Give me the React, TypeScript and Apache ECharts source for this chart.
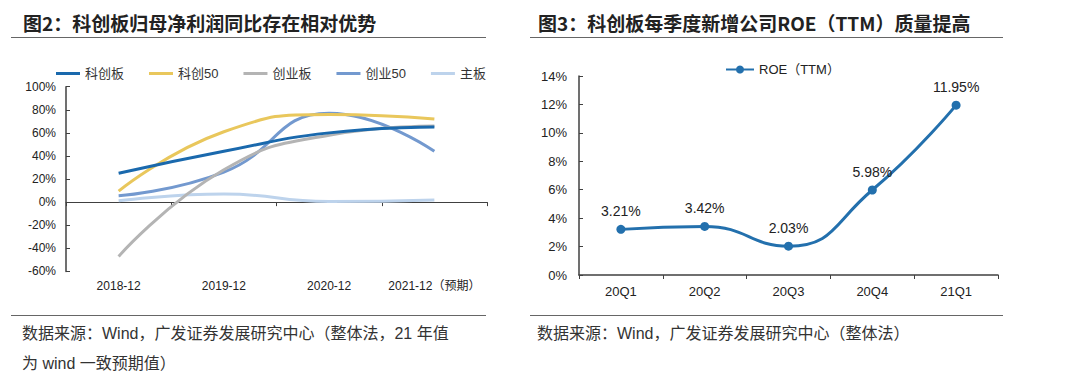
import React, { useEffect, useRef } from "react";
import * as echarts from "echarts";

// ---------- Data ----------
const leftCategories = ["2018-12", "2019-12", "2020-12", "2021-12（预期）"];
const leftNames = ["科创板", "科创50", "创业板", "创业50", "主板"];
const kcbValues = [25, 44, 60, 65];
const kc50Values = [9.5, 61, 76, 72];
const cybValues = [-47, 28, 58, 66];
const cy50Values = [5.5, 26, 77, 44];
const zbValues = [1.2, 7, 0.5, 1.8];
const leftYMin = -60;
const leftYMax = 100;
const leftYStep = 20;

const rightCategories = ["20Q1", "20Q2", "20Q3", "20Q4", "21Q1"];
const roeName = "ROE（TTM）";
const roeValues = [3.21, 3.42, 2.03, 5.98, 11.95];
const rightYMin = 0;
const rightYMax = 14;
const rightYStep = 2;

const titleLeft = "图2：科创板归母净利润同比存在相对优势";
const titleRight = "图3：科创板每季度新增公司ROE（TTM）质量提高";
const footLeft1 = "数据来源：Wind，广发证券发展研究中心（整体法，21 年值";
const footLeft2 = "为 wind 一致预期值）";
const footRight = "数据来源：Wind，广发证券发展研究中心（整体法）";

const leftColors = ["#1A69AD", "#E9C75C", "#B4B4B4", "#7399CF", "#BDD3EC"];
const leftData = [kcbValues, kc50Values, cybValues, cy50Values, zbValues];

const LATIN = "'Liberation Sans', Arial, 'Noto Sans CJK SC', sans-serif";
const CJK = "'Noto Sans CJK SC', 'Liberation Sans', sans-serif";

export default function App() {
  const ref = useRef<HTMLDivElement>(null);

  useEffect(() => {
    document.body.style.margin = "0";
    if (!ref.current) return;
    const chart = echarts.init(ref.current, undefined, { renderer: "svg" });

    const axisLineColor = "#404040";
    const labelColor = "#222";

    const option: any = {
      animation: false,
      backgroundColor: "#ffffff",
      grid: [
        { left: 66, top: 86.7, width: 421, height: 184.7, containLabel: false },
        { left: 579, top: 76, width: 419, height: 199, containLabel: false },
      ],
      legend: [
        {
          data: leftNames,
          left: 51,
          top: 62,
          itemWidth: 24,
          itemHeight: 3,
          itemGap: 25,
          icon: "rect",
          textStyle: { fontSize: 13, color: "#333", fontFamily: LATIN },
        },
        {
          data: [roeName],
          left: 720,
          top: 58,
          itemWidth: 28,
          itemHeight: 10,
          textStyle: { fontSize: 13, color: "#222", fontFamily: LATIN },
        },
      ],
      xAxis: [
        {
          type: "category",
          gridIndex: 0,
          data: leftCategories,
          boundaryGap: true,
          axisLine: { show: true, onZero: true, lineStyle: { color: axisLineColor, width: 1 } },
          axisTick: { show: true, length: 4, alignWithLabel: false, lineStyle: { color: axisLineColor } },
          axisLabel: { interval: 0, margin: 9, fontSize: 12, color: labelColor, fontFamily: LATIN },
          splitLine: { show: false },
        },
        {
          type: "category",
          gridIndex: 1,
          data: rightCategories,
          boundaryGap: true,
          axisLine: { show: true, lineStyle: { color: axisLineColor, width: 1.5 } },
          axisTick: { show: true, length: 4, alignWithLabel: false, lineStyle: { color: axisLineColor } },
          axisLabel: { interval: 0, margin: 10, fontSize: 13, color: labelColor, fontFamily: LATIN },
          splitLine: { show: false },
        },
      ],
      yAxis: [
        {
          type: "value",
          gridIndex: 0,
          min: leftYMin,
          max: leftYMax,
          interval: leftYStep,
          axisLine: { show: true, lineStyle: { color: axisLineColor, width: 1.5 } },
          axisTick: { show: true, inside: true, length: 4, lineStyle: { color: axisLineColor } },
          axisLabel: { margin: 10, fontSize: 12, color: labelColor, fontFamily: LATIN, formatter: "{value}%" },
          splitLine: { show: false },
        },
        {
          type: "value",
          gridIndex: 1,
          min: rightYMin,
          max: rightYMax,
          interval: rightYStep,
          axisLine: { show: true, lineStyle: { color: axisLineColor, width: 1.5 } },
          axisTick: { show: true, inside: true, length: 4, lineStyle: { color: axisLineColor } },
          axisLabel: { margin: 12, fontSize: 13, color: labelColor, fontFamily: LATIN, formatter: "{value}%" },
          splitLine: { show: false },
        },
      ],
      series: [
        ...leftNames.map((name, i) => ({
          name,
          type: "line",
          xAxisIndex: 0,
          yAxisIndex: 0,
          data: leftData[i],
          smooth: 0.5,
          symbol: "none",
          showSymbol: false,
          color: leftColors[i],
          lineStyle: { color: leftColors[i], width: 3 },
          z: 10 - i,
        })),
        {
          name: roeName,
          type: "line",
          xAxisIndex: 1,
          yAxisIndex: 1,
          data: roeValues,
          smooth: 0.5,
          symbol: "circle",
          symbolSize: 9,
          color: "#2370AD",
          itemStyle: { color: "#2370AD" },
          lineStyle: { color: "#2370AD", width: 3 },
          label: {
            show: true,
            position: "top",
            distance: 7,
            fontSize: 14,
            color: "#222",
            fontFamily: LATIN,
            formatter: (p: any) => p.value.toFixed(2) + "%",
          },
        },
      ],
      graphic: [
        {
          type: "text",
          x: 23,
          y: 22,
          style: { text: titleLeft, fontSize: 19, fontWeight: "bold", fill: "#222", fontFamily: CJK, verticalAlign: "middle" },
        },
        {
          type: "text",
          x: 538,
          y: 22,
          style: { text: titleRight, fontSize: 19, fontWeight: "bold", fill: "#222", fontFamily: CJK, verticalAlign: "middle" },
        },
        { type: "line", shape: { x1: 11, y1: 37.5, x2: 486, y2: 37.5 }, style: { stroke: "#666", lineWidth: 1 } },
        { type: "line", shape: { x1: 530, y1: 37.5, x2: 1003, y2: 37.5 }, style: { stroke: "#666", lineWidth: 1 } },
        { type: "line", shape: { x1: 11, y1: 315.5, x2: 486, y2: 315.5 }, style: { stroke: "#666", lineWidth: 1 } },
        { type: "line", shape: { x1: 530, y1: 315.5, x2: 1003, y2: 315.5 }, style: { stroke: "#666", lineWidth: 1 } },
        {
          type: "text",
          x: 22,
          y: 333,
          style: { text: footLeft1, fontSize: 16, fill: "#333", fontFamily: LATIN, verticalAlign: "middle" },
        },
        {
          type: "text",
          x: 22,
          y: 363,
          style: { text: footLeft2, fontSize: 16, fill: "#333", fontFamily: LATIN, verticalAlign: "middle" },
        },
        {
          type: "text",
          x: 537,
          y: 333,
          style: { text: footRight, fontSize: 16, fill: "#333", fontFamily: LATIN, verticalAlign: "middle" },
        },
      ],
    };

    chart.setOption(option);
    return () => {
      chart.dispose();
    };
  }, []);

  return (
    <div
      ref={ref}
      style={{ position: "fixed", left: 0, top: 0, width: 1080, height: 385, background: "#fff" }}
    />
  );
}
